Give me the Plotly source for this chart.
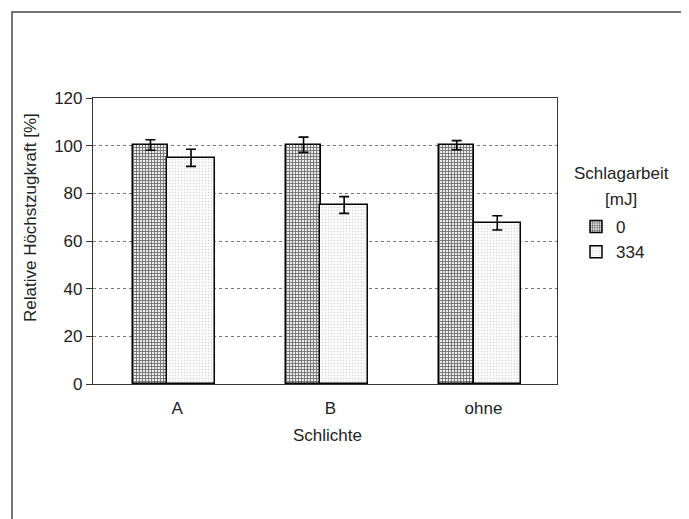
import plotly.graph_objects as go

categories = ["A", "B", "ohne"]
series_names = ["0", "334"]
values_0 = [100.3, 100.4, 100.2]
errors_0 = [2.2, 3.2, 1.9]
values_334 = [94.9, 75.1, 67.6]
errors_334 = [3.6, 3.5, 3.0]
y_ticks = [0, 20, 40, 60, 80, 100, 120]

FONT = "Liberation Sans, Arial, sans-serif"
FS = 17
OFF = 8  # page body offset

fig = go.Figure()
fig.add_trace(go.Bar(
    x=categories, y=values_0, name=series_names[0],
    width=0.23, offset=-0.29,
    marker=dict(color="white", line=dict(color="black", width=1.5),
                pattern=dict(shape="+", fgcolor="#000000", bgcolor="#f4f4f4",
                             size=3, solidity=0.6)),
    error_y=dict(type="data", array=errors_0, color="black", thickness=1.6, width=5),
))
fig.add_trace(go.Bar(
    x=categories, y=values_334, name=series_names[1],
    width=0.31, offset=-0.065,
    marker=dict(color="white", line=dict(color="black", width=1.5),
                pattern=dict(shape=".", fgcolor="#b0b0b0", bgcolor="#fbfbfb",
                             size=3, solidity=0.2)),
    error_y=dict(type="data", array=errors_334, color="black", thickness=1.6, width=5),
))

# desired plot area in page pixels: x 93..557, y 98..384
X0, X1, Y0, Y1 = 93, 557, 98, 384
PW, PH = X1 - X0, Y1 - Y0
W, H = 689, 519
L, T = X0 - OFF, Y0 - OFF
R, B = W - L - PW, H - T - PH


def px(x):
    return (x - X0) / PW


def py(y):
    return (Y1 - y) / PH


fig.update_layout(
    width=W, height=H,
    margin=dict(l=L, r=R, t=T, b=B),
    paper_bgcolor="white", plot_bgcolor="white",
    font=dict(family=FONT, size=FS, color="#222"),
    showlegend=True,
    legend=dict(x=px(576), y=py(209), xanchor="left", yanchor="top",
                font=dict(size=FS), bgcolor="rgba(0,0,0,0)", tracegroupgap=0,
                itemwidth=30),
    bargap=0, barmode="overlay",
    xaxis=dict(type="category", range=[-0.55, 2.48], showgrid=False,
               showline=True, linecolor="#333", linewidth=1.2, mirror=True,
               ticks="", ticklabelstandoff=8, tickfont=dict(size=FS)),
    yaxis=dict(range=[0, 120], tickvals=y_ticks, showgrid=True,
               gridcolor="#777", griddash="dot", gridwidth=1,
               showline=True, linecolor="#333", linewidth=1.2, mirror=True,
               ticks="outside", ticklen=6, tickcolor="#333",
               tickfont=dict(size=FS), zeroline=False),
)

# outer frame
fig.add_shape(type="rect", xref="paper", yref="paper",
              x0=px(12), x1=px(683), y0=py(530), y1=py(12),
              line=dict(color="#444", width=1.5), fillcolor="rgba(0,0,0,0)")

# axis titles
fig.add_annotation(text="Relative Höchstzugkraft [%]", xref="paper", yref="paper",
                   x=px(30), y=py(218), textangle=-90,
                   showarrow=False, font=dict(size=FS), xanchor="center", yanchor="middle")
fig.add_annotation(text="Schlichte", xref="paper", yref="paper",
                   x=px(327), y=py(435),
                   showarrow=False, font=dict(size=FS), xanchor="center", yanchor="middle")
# legend title
fig.add_annotation(text="Schlagarbeit", xref="paper", yref="paper",
                   x=px(621), y=py(173),
                   showarrow=False, font=dict(size=FS), xanchor="center", yanchor="middle")
fig.add_annotation(text="[mJ]", xref="paper", yref="paper",
                   x=px(621), y=py(199),
                   showarrow=False, font=dict(size=FS), xanchor="center", yanchor="middle")

fig.write_html("out.html")
